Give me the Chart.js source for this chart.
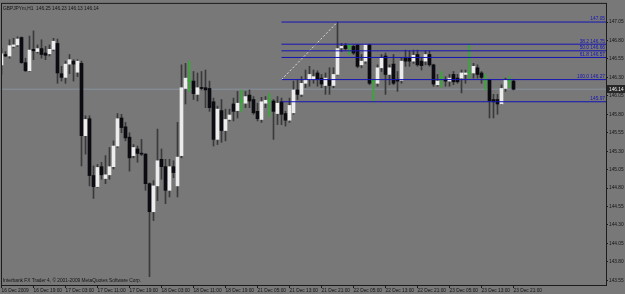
<!DOCTYPE html>
<html>
<head>
<meta charset="utf-8">
<script src="https://cdn.jsdelivr.net/npm/chart.js@4.4.1/dist/chart.umd.min.js"></script>
<style>
  html, body { margin: 0; padding: 0; background: #787878; }
  canvas { display: block; }
</style>
</head>
<body>
<canvas id="chart" width="625" height="294"></canvas>
<script>
// GBPJPYm H1, 16 Dec 2009 11:00 .. 23 Dec 21:00 (one entry per bar)
const opens = [
  146.47, 146.61, 146.59, 146.72, 146.74, 146.84, 146.50, 146.39, 146.68, 146.65,
  146.69, 146.63, 146.62, 146.68, 146.76, 146.35, 146.30, 146.48, 146.52, 146.37,
  146.49, 145.51, 145.74, 144.97, 144.82, 145.09, 144.93, 144.98, 145.09, 145.37,
  145.75, 145.63, 145.49, 145.24, 145.33, 145.27, 145.26, 144.86, 144.48, 144.83,
  145.19, 145.09, 144.77, 145.09, 144.83, 145.24, 146.15, 146.25, 146.25, 146.07,
  146.16, 146.16, 146.15, 145.97, 145.46, 145.85, 145.58, 145.73, 145.94, 145.85,
  145.97, 145.95, 146.06, 146.00, 145.84, 145.73, 145.95, 145.98, 145.98, 145.81,
  145.97, 145.81, 145.72, 145.82, 146.13, 146.07, 146.22, 146.27, 146.27, 146.36,
  146.29, 146.19, 146.27, 146.19, 146.34, 146.70, 146.73, 146.72, 146.72, 146.74,
  146.47, 146.52, 146.74, 146.25, 146.22, 146.43, 146.59, 146.34, 146.48, 146.27,
  146.26, 146.56, 146.56, 146.52, 146.61, 146.52, 146.52, 146.61, 146.47, 146.20,
  146.29, 146.27, 146.25, 146.34, 146.29, 146.29, 146.34, 146.36, 146.36, 146.43,
  146.36, 146.26, 146.27, 146.00, 146.00, 145.94, 146.15, 146.25, 146.25
];
const highs = [
  146.69, 146.65, 146.81, 146.83, 146.85, 146.85, 146.56, 146.86, 146.93, 146.74,
  146.81, 146.72, 146.74, 146.83, 146.82, 146.45, 146.52, 146.61, 146.54, 146.54,
  146.52, 145.78, 145.78, 145.10, 145.12, 145.15, 145.24, 145.35, 145.44, 145.81,
  145.80, 145.69, 145.55, 145.39, 145.37, 145.46, 145.27, 144.87, 144.90, 145.60,
  145.33, 145.19, 145.19, 145.17, 145.69, 146.47, 146.49, 146.52, 146.38, 146.36,
  146.38, 146.40, 146.25, 146.02, 145.91, 146.00, 145.87, 145.87, 146.02, 146.11,
  146.13, 146.11, 146.13, 146.04, 145.95, 146.03, 146.04, 146.08, 146.00, 146.04,
  146.02, 145.84, 146.02, 146.25, 146.27, 146.31, 146.40, 146.45, 146.40, 146.39,
  146.34, 146.36, 146.43, 146.43, 147.05, 146.76, 146.76, 146.74, 146.74, 146.74,
  146.61, 146.74, 146.75, 146.27, 146.47, 146.61, 146.63, 146.47, 146.61, 146.38,
  146.56, 146.67, 146.66, 146.67, 146.67, 146.56, 146.66, 146.66, 146.48, 146.34,
  146.38, 146.31, 146.34, 146.38, 146.34, 146.40, 146.40, 146.74, 146.49, 146.47,
  146.38, 146.34, 146.27, 146.07, 146.07, 146.20, 146.29, 146.31, 146.27
];
const lows = [
  146.34, 146.58, 146.56, 146.70, 146.72, 146.49, 146.38, 146.38, 146.54, 146.63,
  146.56, 146.54, 146.59, 146.66, 146.22, 146.25, 146.22, 146.35, 146.25, 146.31,
  145.10, 145.26, 144.83, 144.66, 144.81, 144.92, 144.86, 144.92, 145.06, 145.35,
  145.55, 145.44, 145.03, 145.21, 145.15, 145.24, 144.77, 143.60, 144.36, 144.63,
  144.92, 144.59, 144.68, 144.94, 144.68, 145.21, 145.94, 146.11, 146.00, 145.98,
  146.13, 145.89, 145.84, 145.37, 145.39, 145.42, 145.44, 145.71, 145.71, 145.75,
  145.84, 145.89, 145.89, 145.80, 145.71, 145.69, 145.89, 145.77, 145.46, 145.66,
  145.66, 145.64, 145.69, 145.80, 146.00, 146.04, 146.16, 146.18, 146.22, 146.18,
  146.16, 146.07, 146.07, 146.16, 146.33, 146.65, 146.67, 146.61, 146.61, 146.43,
  146.43, 146.49, 146.20, 145.98, 146.18, 146.38, 146.07, 146.20, 146.20, 146.11,
  146.22, 146.45, 146.45, 146.49, 146.45, 146.40, 146.47, 146.45, 146.18, 146.18,
  146.17, 146.18, 146.18, 146.20, 146.22, 146.09, 146.22, 146.29, 146.29, 146.29,
  146.22, 146.13, 145.75, 145.75, 145.80, 145.93, 146.11, 146.16, 146.13
];
const closes = [
  146.62, 146.59, 146.73, 146.74, 146.82, 146.50, 146.39, 146.67, 146.66, 146.69,
  146.61, 146.60, 146.68, 146.79, 146.36, 146.30, 146.48, 146.54, 146.48, 146.52,
  145.51, 145.73, 144.97, 144.82, 145.08, 144.98, 144.98, 145.09, 145.37, 145.74,
  145.62, 145.48, 145.21, 145.35, 145.27, 145.26, 144.86, 144.48, 144.83, 145.17,
  145.09, 144.77, 145.09, 145.01, 145.22, 146.16, 146.29, 146.25, 146.08, 146.16,
  146.15, 146.13, 145.89, 145.46, 145.87, 145.58, 145.73, 145.79, 145.84, 145.95,
  145.97, 146.04, 145.98, 145.82, 145.74, 145.97, 145.99, 145.98, 145.84, 145.95,
  145.80, 145.72, 145.92, 146.13, 146.07, 146.22, 146.27, 146.34, 146.31, 146.27,
  146.21, 146.29, 146.19, 146.34, 146.69, 146.72, 146.69, 146.72, 146.63, 146.45,
  146.52, 146.74, 146.22, 146.25, 146.43, 146.56, 146.34, 146.43, 146.22, 146.25,
  146.52, 146.52, 146.52, 146.60, 146.47, 146.46, 146.61, 146.47, 146.21, 146.25,
  146.29, 146.25, 146.29, 146.24, 146.24, 146.36, 146.36, 146.36, 146.45, 146.34,
  146.30, 146.26, 145.98, 145.97, 145.94, 146.15, 146.26, 146.25, 146.14
];

const timeTickIdx = [0, 8, 16, 24, 32, 40, 48, 56, 64, 72, 80, 88, 96, 104, 112, 120, 128];
const timeLabels = [
  "16 Dec 2009", "16 Dec 19:00", "17 Dec 03:00", "17 Dec 11:00", "17 Dec 19:00",
  "18 Dec 03:00", "18 Dec 11:00", "18 Dec 19:00", "21 Dec 05:00", "21 Dec 13:00",
  "21 Dec 21:00", "22 Dec 05:00", "22 Dec 13:00", "22 Dec 21:00", "23 Dec 05:00",
  "23 Dec 13:00", "23 Dec 21:00"
];
const priceTicks = [147.05, 146.80, 146.55, 146.30, 146.05, 145.80, 145.55, 145.30,
  145.05, 144.80, 144.55, 144.30, 144.05, 143.80, 143.55];

// fibonacci retracement drawn from bar 70 (146.27) to bar 84 (147.05)
const fibStartIdx = 70;
const fibEndIdx = 84;
const fibLevels = [147.05, 146.75, 146.66, 146.57, 146.27, 145.97];
const fibTexts = ["147.05", "38.2 146.75", "50.0 146.66", "61.8 146.57", "100.0 146.27", "145.97"];

const lastPrice = 146.14;
const symbolTitle = "GBPJPYm,H1  146.25 146.23 146.13 146.14";
const copyright = "Interbank FX Trader 4, \u00a9 2001-2009 MetaQuotes Software Corp.";

const BG = "#787878";
const WICK = "#3a3a3a";
const BULL = "#ececec";
const BEAR = "#0b0b10";
const DOJI = "#2fae2f";
const FIB = "#1414b4";
const BID = "#8793a1";
const TXT = "#141414";
const FONT = "'Liberation Sans', Arial, sans-serif";
const FS = 4.8;

const xMin = 0.125;
const xMax = 151.125;

function candleColor(i) {
  if (opens[i] === closes[i]) return DOJI;
  return closes[i] > opens[i] ? BULL : BEAR;
}

const bodies = opens.map((o, i) => ({ x: i, y: [Math.min(o, closes[i]), Math.max(o, closes[i])] }));
const wicks = lows.map((l, i) => ({ x: i, y: [l, highs[i]] }));
const bodyColors = opens.map((o, i) => candleColor(i));
const wickColors = opens.map((o, i) => (o === closes[i] ? DOJI : WICK));

const fibSets = fibLevels.map((lv) => ({
  type: "line",
  data: [{ x: fibStartIdx, y: lv }, { x: xMax, y: lv }],
  borderColor: FIB,
  borderWidth: 1,
  pointRadius: 0,
  order: 0,
}));

const overlay = {
  id: "overlay",
  beforeDraw(chart) {
    const ctx = chart.ctx;
    ctx.save();
    ctx.fillStyle = BG;
    ctx.fillRect(0, 0, chart.width, chart.height);
    ctx.restore();
  },
  afterDraw(chart) {
    const { ctx, chartArea: a } = chart;
    const y = chart.scales.y;
    ctx.save();
    ctx.strokeStyle = "#1c1c1c";
    ctx.lineWidth = 1;
    ctx.strokeRect(a.left - 0.5, a.top - 0.5, a.right - a.left + 1, a.bottom - a.top + 1);

    ctx.font = FS + "px " + FONT;
    ctx.fillStyle = TXT;
    ctx.textAlign = "left";
    ctx.textBaseline = "middle";
    ctx.fillText(symbolTitle, a.left + 1, a.top + 4.5);
    ctx.fillText(copyright, a.left + 1, a.bottom - 4.5);

    ctx.fillStyle = FIB;
    ctx.textAlign = "right";
    ctx.textBaseline = "bottom";
    fibLevels.forEach((lv, k) => {
      ctx.fillText(fibTexts[k], a.right - 1, y.getPixelForValue(lv) - 0.5);
    });

    const py = Math.round(y.getPixelForValue(lastPrice));
    ctx.fillStyle = "#262626";
    ctx.fillRect(a.right + 1, py - 4, chart.width - a.right - 1, 8);
    ctx.fillStyle = "#f2f2f2";
    ctx.textAlign = "left";
    ctx.textBaseline = "middle";
    ctx.fillText(lastPrice.toFixed(2), a.right + 3, py + 0.5);
    ctx.restore();
  },
};

new Chart(document.getElementById("chart"), {
  type: "bar",
  data: {
    datasets: [
      ...fibSets,
      {
        type: "line",
        data: [{ x: fibStartIdx, y: fibLevels[4] }, { x: fibEndIdx, y: fibLevels[0] }],
        borderColor: "#dcdcdc",
        borderWidth: 1,
        borderDash: [2, 2],
        pointRadius: 0,
        order: 0,
      },
      {
        data: bodies,
        backgroundColor: bodyColors,
        barThickness: 3,
        minBarLength: 1,
        grouped: false,
        order: 1,
      },
      {
        data: wicks,
        backgroundColor: wickColors,
        barThickness: 1,
        grouped: false,
        order: 2,
      },
      {
        type: "line",
        data: [{ x: xMin, y: lastPrice }, { x: xMax, y: lastPrice }],
        borderColor: BID,
        borderWidth: 1,
        pointRadius: 0,
        order: 3,
      },
    ],
  },
  options: {
    responsive: false,
    animation: false,
    events: [],
    layout: { padding: { left: 2, top: 1, right: 1, bottom: 0 } },
    plugins: { legend: { display: false }, tooltip: { enabled: false } },
    scales: {
      x: {
        type: "linear",
        min: xMin,
        max: xMax,
        offset: false,
        afterBuildTicks(scale) {
          scale.ticks = timeTickIdx.map((v) => ({ value: v }));
        },
        afterFit(scale) {
          scale.height = 9;
        },
        ticks: {
          autoSkip: false,
          maxRotation: 0,
          align: "start",
          padding: 0,
          color: TXT,
          font: { size: FS, family: FONT },
          callback: (v) => timeLabels[timeTickIdx.indexOf(v)],
        },
        grid: { drawOnChartArea: false, offset: false, tickLength: 3, color: "#1c1c1c" },
        border: { color: "#1c1c1c" },
      },
      y: {
        type: "linear",
        position: "right",
        min: 143.487,
        max: 147.296,
        afterBuildTicks(scale) {
          scale.ticks = priceTicks.map((v) => ({ value: v }));
        },
        afterFit(scale) {
          scale.width = 18;
        },
        ticks: {
          autoSkip: false,
          padding: 1,
          color: TXT,
          font: { size: FS, family: FONT },
          callback: (v) => v.toFixed(2),
        },
        grid: { drawOnChartArea: false, tickLength: 2, color: "#1c1c1c" },
        border: { color: "#1c1c1c" },
      },
    },
  },
  plugins: [overlay],
});
</script>
</body>
</html>
